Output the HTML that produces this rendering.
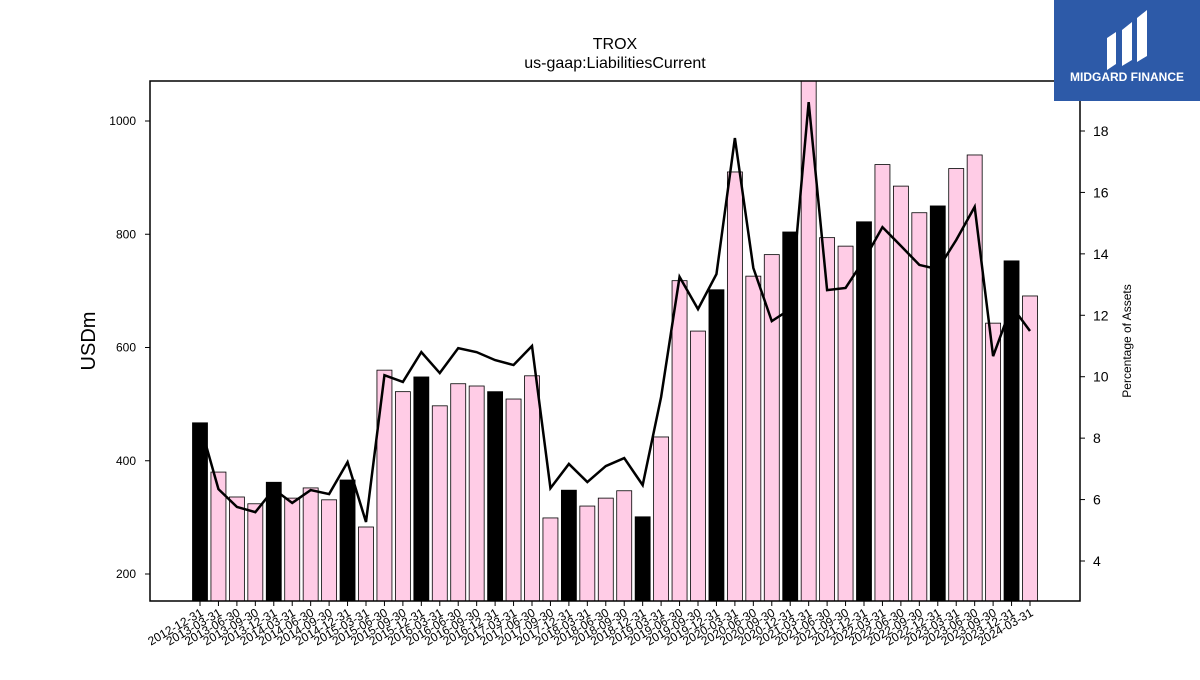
<!DOCTYPE html>
<html><head><meta charset="utf-8"><style>
body{margin:0;background:#fff;width:1200px;height:675px;overflow:hidden;font-family:"Liberation Sans",sans-serif}
</style></head><body>
<svg id="chart" width="1200" height="675" xmlns="http://www.w3.org/2000/svg" font-family="Liberation Sans, sans-serif">
<text x="615" y="49" text-anchor="middle" font-size="16">TROX</text>
<text x="615" y="68" text-anchor="middle" font-size="16">us-gaap:LiabilitiesCurrent</text>
<text transform="translate(95,341) rotate(-90)" text-anchor="middle" font-size="20">USDm</text>
<text transform="translate(1131,341) rotate(-90)" text-anchor="middle" font-size="12">Percentage of Assets</text>
<g id="bars"></g><g id="xt"></g><g id="yl"></g><g id="yr"></g>
<path id="line" fill="none" stroke="#000" stroke-width="2.5"/>
<rect x="150" y="81" width="930" height="520" fill="none" stroke="#000" stroke-width="1.5"/>
<g>
<rect x="1054" y="0" width="146" height="101" fill="#2d5aa8"/>
<path d="M1107 70 V38 L1116 32 V64 Z M1122 66 V30 L1132 22 V60 Z M1137 62 V18 L1147 10 V56 Z" fill="#fff"/>
<text x="1127" y="81" text-anchor="middle" font-size="12" font-weight="bold" fill="#fff">MIDGARD FINANCE</text>
</g>
</svg>
<script>
const dates=["2012-12-31","2013-03-31","2013-06-30","2013-09-30","2013-12-31","2014-03-31","2014-06-30","2014-09-30","2014-12-31","2015-03-31","2015-06-30","2015-09-30","2015-12-31","2016-03-31","2016-06-30","2016-09-30","2016-12-31","2017-03-31","2017-06-30","2017-09-30","2017-12-31","2018-03-31","2018-06-30","2018-09-30","2018-12-31","2019-03-31","2019-06-30","2019-09-30","2019-12-31","2020-03-31","2020-06-30","2020-09-30","2020-12-31","2021-03-31","2021-06-30","2021-09-30","2021-12-31","2022-03-31","2022-06-30","2022-09-30","2022-12-31","2023-03-31","2023-06-30","2023-09-30","2023-12-31","2024-03-31"];
const values=[467,380,336,324,362,334,352,331,366,283,560,522,548,497,536,532,522,509,550,299,348,320,334,347,301,442,718,629,702,910,726,764,804,1075,794,779,822,923,885,838,850,916,940,643,753,691];
const pct=[8.46,6.34,5.76,5.59,6.34,5.89,6.31,6.18,7.22,5.27,10.05,9.83,10.8,10.12,10.93,10.8,10.54,10.38,11.0,6.37,7.16,6.57,7.09,7.35,6.47,9.34,13.25,12.2,13.34,17.77,13.54,11.81,12.2,18.94,12.82,12.89,13.8,14.87,14.26,13.64,13.5,14.45,15.53,10.67,12.3,11.49];
const leftTicks=[200,400,600,800,1000];
const rightTicks=[4,6,8,10,12,14,16,18];
const NS="http://www.w3.org/2000/svg";
const X=i=>200+i*(830/45);
const Y=v=>574-(v-200)*0.56625;
const Y2=v=>131+(18-v)*30.714;
function mk(t,a,p){const e=document.createElementNS(NS,t);for(const k in a)e.setAttribute(k,a[k]);p.appendChild(e);return e;}
const bars=document.getElementById('bars'),xt=document.getElementById('xt'),yl=document.getElementById('yl'),yr=document.getElementById('yr');
values.forEach((v,i)=>{
 const top=Math.max(81,Y(v));
 const r=mk('rect',{x:X(i)-7.5,y:top,width:15,height:601-top,fill:dates[i].slice(5)==="12-31"?"#000":"#ffcce6",stroke:"#000","stroke-width":0.8},bars);
 
 
 mk('line',{x1:X(i),x2:X(i),y1:601,y2:606,stroke:"#000"},xt);
 const t=mk('text',{transform:`translate(${X(i)+4},${615}) rotate(-30)`,"text-anchor":"end","font-size":12},xt);
 t.textContent=dates[i];
 
 
});
leftTicks.forEach(v=>{
 mk('line',{x1:145,x2:150,y1:Y(v),y2:Y(v),stroke:"#000"},yl);
 const t=mk('text',{x:136,y:Y(v)+4,"text-anchor":"end","font-size":12},yl);t.textContent=v;
 
 
});
rightTicks.forEach(v=>{
 mk('line',{x1:1080,x2:1085,y1:Y2(v),y2:Y2(v),stroke:"#000"},yr);
 const t=mk('text',{x:1093,y:Y2(v)+5,"font-size":14},yr);t.textContent=v;
 
 
});
document.getElementById('line').setAttribute('d',pct.map((p,i)=>(i?'L':'M')+X(i)+' '+Y2(p)).join(' '));
</script>
</body></html>
